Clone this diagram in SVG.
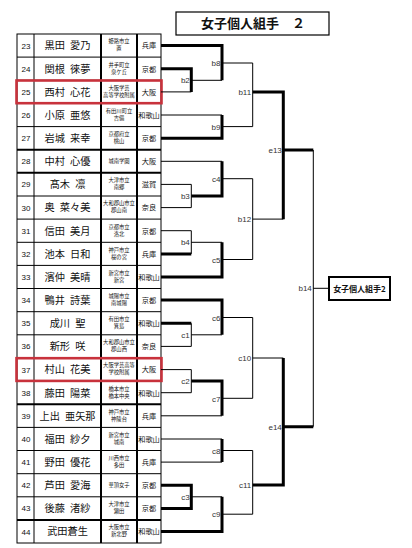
<svg xmlns="http://www.w3.org/2000/svg" width="412" height="548" viewBox="0 0 412 548">
<style>
.bg{fill:#fff}
.tb{fill:none;stroke:#000;stroke-width:1}
.tk{stroke:#000;stroke-width:2}
.num{font-family:"Liberation Sans",Arial,sans-serif;font-size:8px;fill:#111;text-anchor:middle}
.nm{font-family:"Noto Sans CJK JP","Noto Sans",sans-serif;font-size:10.2px;fill:#111;text-anchor:middle}
.sc{font-family:"Noto Sans CJK JP","Noto Sans",sans-serif;font-size:5.3px;fill:#111;text-anchor:middle}
.pf{font-family:"Noto Sans CJK JP","Noto Sans",sans-serif;font-size:7.2px;fill:#111;text-anchor:middle}
.lb{font-family:"Liberation Sans",Arial,sans-serif;font-size:8px;fill:#333;text-anchor:end}
.t{fill:none;stroke:#000;stroke-width:1}
.T{fill:none;stroke:#000;stroke-width:3}
.red{fill:none;stroke:#c8323c;stroke-width:2.6}
.ttl{font-family:"Noto Sans CJK JP","Noto Sans",sans-serif;font-size:13px;font-weight:bold;fill:#111;text-anchor:middle}
.res{font-family:"Noto Sans CJK JP","Noto Sans",sans-serif;font-size:8px;font-weight:bold;fill:#111;text-anchor:middle}
</style>
<rect class="bg" x="0" y="0" width="412" height="548"/>

<g id="title">
<rect x="176" y="12" width="153" height="23" fill="none" stroke="#000" stroke-width="1.2"/>
<text class="ttl" x="253" y="28">女子個人組手　２</text>
</g>

<g id="table-grid">
<rect class="tb" x="17" y="34" width="144" height="509"/>
<line class="tb" x1="34" y1="34" x2="34" y2="543"/>
<line class="tk" x1="101" y1="34" x2="101" y2="543"/>
<line class="tk" x1="137" y1="34" x2="137" y2="543"/>
<g class="tb">
<line x1="17" y1="57.1" x2="161" y2="57.1"/>
<line x1="17" y1="80.3" x2="161" y2="80.3"/>
<line x1="17" y1="103.4" x2="161" y2="103.4"/>
<line x1="17" y1="126.6" x2="161" y2="126.6"/>
<line x1="17" y1="196" x2="161" y2="196"/>
<line x1="17" y1="219.1" x2="161" y2="219.1"/>
<line x1="17" y1="242.3" x2="161" y2="242.3"/>
<line x1="17" y1="265.4" x2="161" y2="265.4"/>
<line x1="17" y1="288.5" x2="161" y2="288.5"/>
<line x1="17" y1="311.7" x2="161" y2="311.7"/>
<line x1="17" y1="334.8" x2="161" y2="334.8"/>
<line x1="17" y1="358" x2="161" y2="358"/>
<line x1="17" y1="381.1" x2="161" y2="381.1"/>
<line x1="17" y1="427.4" x2="161" y2="427.4"/>
<line x1="17" y1="450.5" x2="161" y2="450.5"/>
<line x1="17" y1="473.7" x2="161" y2="473.7"/>
<line x1="17" y1="496.8" x2="161" y2="496.8"/>
</g>
<g class="tk">
<line x1="17" y1="149.7" x2="161" y2="149.7"/>
<line x1="17" y1="172.8" x2="161" y2="172.8"/>
<line x1="17" y1="404.2" x2="161" y2="404.2"/>
<line x1="17" y1="520" x2="161" y2="520"/>
</g>
</g>

<g id="row23"><text class="num" x="26" y="48.6">23</text><text class="nm" x="67.5" y="49.4">黒田&#8194;愛乃</text><text class="sc" x="119" y="43.4">姫路市立</text><text class="sc" x="119" y="50.4">置</text><text class="pf" x="149" y="48.4">兵庫</text></g>
<g id="row24"><text class="num" x="26" y="71.7">24</text><text class="nm" x="67.5" y="72.5">関根&#8194;徠夢</text><text class="sc" x="119" y="66.5">井手町立</text><text class="sc" x="119" y="73.5">泉ケ丘</text><text class="pf" x="149" y="71.5">京都</text></g>
<g id="row25"><text class="num" x="26" y="94.9">25</text><text class="nm" x="67.5" y="95.7">西村&#8194;心花</text><text class="sc" x="119" y="89.7">大阪学芸</text><text class="sc" x="119" y="96.7">高等学校附属</text><text class="pf" x="149" y="94.7">大阪</text></g>
<g id="row26"><text class="num" x="26" y="118">26</text><text class="nm" x="67.5" y="118.8">小原&#8194;亜悠</text><text class="sc" x="119" y="112.8">有田川町立</text><text class="sc" x="119" y="119.8">吉備</text><text class="pf" x="149" y="117.8">和歌山</text></g>
<g id="row27"><text class="num" x="26" y="141.2">27</text><text class="nm" x="67.5" y="142">岩城&#8194;来幸</text><text class="sc" x="119" y="136">京都府立</text><text class="sc" x="119" y="143">桃山</text><text class="pf" x="149" y="141">京都</text></g>
<g id="row28"><text class="num" x="26" y="164.3">28</text><text class="nm" x="67.5" y="165.1">中村&#8194;心優</text><text class="sc" x="119" y="163.1">城南学園</text><text class="pf" x="149" y="164.1">大阪</text></g>
<g id="row29"><text class="num" x="26" y="187.4">29</text><text class="nm" x="67.5" y="188.2">髙木&#8194;凛</text><text class="sc" x="119" y="182.2">大津市立</text><text class="sc" x="119" y="189.2">南郷</text><text class="pf" x="149" y="187.2">滋賀</text></g>
<g id="row30"><text class="num" x="26" y="210.6">30</text><text class="nm" x="67.5" y="211.4">奥&#8194;菜々美</text><text class="sc" x="119" y="205.4">大和郡山市立</text><text class="sc" x="119" y="212.4">郡山南</text><text class="pf" x="149" y="210.4">奈良</text></g>
<g id="row31"><text class="num" x="26" y="233.7">31</text><text class="nm" x="67.5" y="234.5">信田&#8194;美月</text><text class="sc" x="119" y="228.5">京都市立</text><text class="sc" x="119" y="235.5">洛北</text><text class="pf" x="149" y="233.5">京都</text></g>
<g id="row32"><text class="num" x="26" y="256.9">32</text><text class="nm" x="67.5" y="257.7">池本&#8194;日和</text><text class="sc" x="119" y="251.7">神戸市立</text><text class="sc" x="119" y="258.7">桜の宮</text><text class="pf" x="149" y="256.7">兵庫</text></g>
<g id="row33"><text class="num" x="26" y="280">33</text><text class="nm" x="67.5" y="280.8">濱仲&#8194;美晴</text><text class="sc" x="119" y="274.8">新宮市立</text><text class="sc" x="119" y="281.8">新宮</text><text class="pf" x="149" y="279.8">和歌山</text></g>
<g id="row34"><text class="num" x="26" y="303.1">34</text><text class="nm" x="67.5" y="303.9">鴨井&#8194;詩葉</text><text class="sc" x="119" y="297.9">城陽市立</text><text class="sc" x="119" y="304.9">南城陽</text><text class="pf" x="149" y="302.9">京都</text></g>
<g id="row35"><text class="num" x="26" y="326.3">35</text><text class="nm" x="67.5" y="327.1">成川&#8194;聖</text><text class="sc" x="119" y="321.1">有田市立</text><text class="sc" x="119" y="328.1">箕島</text><text class="pf" x="149" y="326.1">和歌山</text></g>
<g id="row36"><text class="num" x="26" y="349.4">36</text><text class="nm" x="67.5" y="350.2">新形&#8194;咲</text><text class="sc" x="119" y="344.2">大和郡山市立</text><text class="sc" x="119" y="351.2">郡山西</text><text class="pf" x="149" y="349.2">奈良</text></g>
<g id="row37"><text class="num" x="26" y="372.6">37</text><text class="nm" x="67.5" y="373.4">村山&#8194;花美</text><text class="sc" x="119" y="367.4">大阪学芸高等</text><text class="sc" x="119" y="374.4">学校附属</text><text class="pf" x="149" y="372.4">大阪</text></g>
<g id="row38"><text class="num" x="26" y="395.7">38</text><text class="nm" x="67.5" y="396.5">藤田&#8194;陽菜</text><text class="sc" x="119" y="390.5">橋本市立</text><text class="sc" x="119" y="397.5">橋本中央</text><text class="pf" x="149" y="395.5">和歌山</text></g>
<g id="row39"><text class="num" x="26" y="418.8">39</text><text class="nm" x="67.5" y="419.6">上出&#8194;亜矢那</text><text class="sc" x="119" y="413.6">神戸市立</text><text class="sc" x="119" y="420.6">神陵台</text><text class="pf" x="149" y="418.6">兵庫</text></g>
<g id="row40"><text class="num" x="26" y="442">40</text><text class="nm" x="67.5" y="442.8">福田&#8194;紗夕</text><text class="sc" x="119" y="436.8">新宮市立</text><text class="sc" x="119" y="443.8">城南</text><text class="pf" x="149" y="441.8">和歌山</text></g>
<g id="row41"><text class="num" x="26" y="465.1">41</text><text class="nm" x="67.5" y="465.9">野田&#8194;優花</text><text class="sc" x="119" y="459.9">川西市立</text><text class="sc" x="119" y="466.9">多田</text><text class="pf" x="149" y="464.9">兵庫</text></g>
<g id="row42"><text class="num" x="26" y="488.3">42</text><text class="nm" x="67.5" y="489.1">芦田&#8194;愛海</text><text class="sc" x="119" y="487.1">華頂女子</text><text class="pf" x="149" y="488.1">京都</text></g>
<g id="row43"><text class="num" x="26" y="511.4">43</text><text class="nm" x="67.5" y="512.2">後藤&#8194;渚紗</text><text class="sc" x="119" y="506.2">大津市立</text><text class="sc" x="119" y="513.2">瀬田</text><text class="pf" x="149" y="511.2">京都</text></g>
<g id="row44"><text class="num" x="26" y="534.6">44</text><text class="nm" x="67.5" y="535.4">武田蒼生</text><text class="sc" x="119" y="529.4">大阪市立</text><text class="sc" x="119" y="536.4">新北野</text><text class="pf" x="149" y="534.4">和歌山</text></g>

<g id="highlights">
<rect class="red" x="16.5" y="80.5" width="145" height="22.7"/>
<rect class="red" x="16.5" y="358.2" width="145" height="22.7"/>
</g>

<g id="connectors">
<path class="T" d="M161 45.6H222V80.3 M161 68.7H191.3V91.9 M161 138.2H222V115 M252.7 92H283.3V219.3 M283.3 150H313.3 M222 161.3V196H191.3 M161 253.9H191.3 M222 242.3V277H161 M161 300.1H222V334.8 M161 323.3H191.3 M283.3 358V485H252.7 M283.3 426.7H313.3 M191.3 381.1H222V415.8 M222 439V462.1 M161 485.3H191.3V508.4H161 M222 496.8V531.6H161"/>
<path class="t" d="M161 91.9H191.3 M191.3 80.3H222 M222 63H252.7V126.6H222 M161 115H222 M161 161.3H222 M222 178.7H252.7V259.5H222 M161 184.4H191.3V207.6H161 M252.7 219.1H283.3 M161 230.7H191.3V253.9 M191.3 242.3H222 M313.3 150V426.7 M313.3 288.3H328.7 M161 346.4H191.3V323.3 M191.3 334.8H222 M222 317.5H252.7V398.3H222 M252.7 358H283.3 M161 369.6H191.3V392.7H161 M161 415.8H222 M161 439H222 M161 462.1H222 M222 450.5H252.7V514.2H222 M191.3 496.8H222"/>
</g>

<g id="match-labels">
<text class="lb" x="220.5" y="66">b8</text>
<text class="lb" x="189.8" y="83.3">b2</text>
<text class="lb" x="251.2" y="95">b11</text>
<text class="lb" x="220.5" y="129.6">b9</text>
<text class="lb" x="281.8" y="153">e13</text>
<text class="lb" x="220.5" y="181.7">c4</text>
<text class="lb" x="189.8" y="199">b3</text>
<text class="lb" x="251.2" y="222.1">b12</text>
<text class="lb" x="189.8" y="245.3">b4</text>
<text class="lb" x="220.5" y="262.6">c5</text>
<text class="lb" x="311.8" y="291.3">b14</text>
<text class="lb" x="220.5" y="320.5">c6</text>
<text class="lb" x="189.8" y="337.8">c1</text>
<text class="lb" x="251.2" y="361">c10</text>
<text class="lb" x="189.8" y="384.1">c2</text>
<text class="lb" x="220.5" y="401.5">c7</text>
<text class="lb" x="281.8" y="429.7">e14</text>
<text class="lb" x="220.5" y="453.5">c8</text>
<text class="lb" x="251.2" y="488">c11</text>
<text class="lb" x="189.8" y="499.8">c3</text>
<text class="lb" x="220.5" y="517.2">c9</text>
</g>

<g id="result">
<rect x="329" y="277" width="61" height="23" fill="#fff" stroke="#000" stroke-width="2"/>
<text class="res" x="359.5" y="291.5">女子個人組手2</text>
</g>
</svg>
